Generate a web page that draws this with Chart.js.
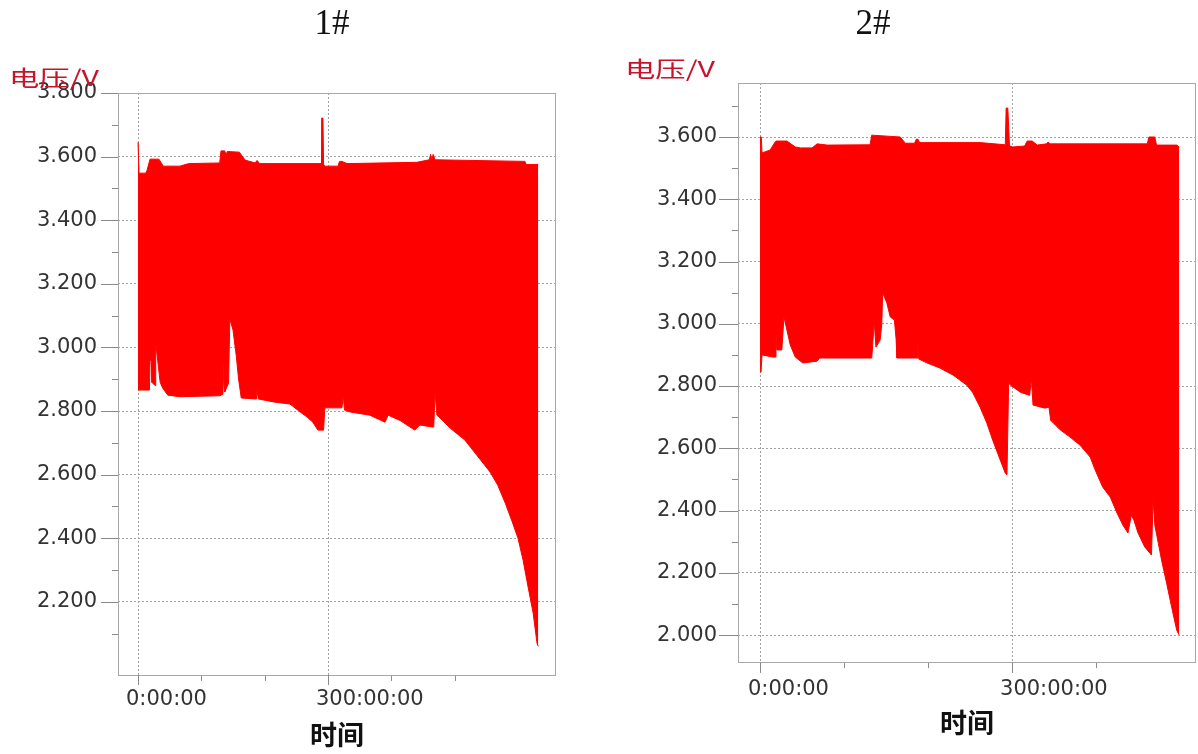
<!DOCTYPE html>
<html>
<head>
<meta charset="utf-8">
<script src="https://cdn.jsdelivr.net/npm/chart.js@4.4.1/dist/chart.umd.min.js"></script>
<style>
  html, body { margin: 0; padding: 0; background: #fff; }
  body { width: 1198px; height: 754px; position: relative; overflow: hidden; }
  .box { position: absolute; top: 0; height: 754px; }
  .lbl { position: absolute; white-space: nowrap; z-index: 2; }
  .title { font-family: "Liberation Serif", serif; font-size: 35px; line-height: 35px; color: #111; width: 100px; text-align: center; }
  .unit { font-family: "Noto Sans CJK SC", sans-serif; font-size: 22px; line-height: 22px; color: #c8142a; transform: scaleX(1.38); transform-origin: left top; }
</style>
</head>
<body>
<div class="box" style="left:0;width:560px"><canvas id="chart1"></canvas></div>
<div class="box" style="left:620px;width:578px"><canvas id="chart2"></canvas></div>
<div class="lbl title" style="left:282px;top:5px">1#</div>
<div class="lbl title" style="left:823px;top:5px">2#</div>
<div class="lbl unit" style="left:9px;top:65px">电压/V</div>
<div class="lbl unit" style="left:625px;top:56px">电压/V</div>

<script>
// ---- data (time in hours, voltage in V) ----

// 1#: upper envelope
let hiT1 = [0, 0.8, 1.6, 12, 14, 19, 33, 40, 66, 80, 129, 131, 137, 139, 141, 160, 169, 185, 188, 192,
  289, 290, 292, 293, 296, 316, 318, 322, 330, 440, 460, 462, 464, 466, 469, 611, 613, 632];
let hiV1 = [3.645, 3.645, 3.548, 3.548, 3.555, 3.592, 3.592, 3.570, 3.570, 3.578, 3.58, 3.618, 3.618, 3.605, 3.616, 3.614, 3.589, 3.58, 3.588, 3.578,
  3.578, 3.721, 3.721, 3.575, 3.570, 3.570, 3.585, 3.585, 3.578, 3.582, 3.59, 3.607, 3.59, 3.607, 3.59, 3.585, 3.575, 3.575];
// 1#: lower envelope
let loT1 = [0, 18, 19, 21, 22, 27, 28, 31, 35, 39, 47, 66, 129, 134, 136, 137, 143, 145, 150, 155,
  159, 163, 185, 187, 188, 190, 216, 240, 256, 267, 276, 284, 293, 295, 319, 322, 324, 326, 335, 366,
  390, 395, 414, 437, 445, 464, 467, 469, 472, 477, 493, 516, 535, 556, 568, 580, 591, 600, 608, 616,
  624, 630, 632];
let loV1 = [2.866, 2.866, 2.96, 2.96, 2.89, 2.88, 3.014, 2.96, 2.89, 2.872, 2.850, 2.845, 2.848, 2.853, 2.96, 2.86, 2.888, 3.089, 3.055, 2.976,
  2.897, 2.841, 2.838, 2.838, 2.866, 2.838, 2.828, 2.822, 2.797, 2.781, 2.765, 2.74, 2.74, 2.81, 2.81, 2.81, 2.85, 2.803, 2.797, 2.787,
  2.765, 2.787, 2.77, 2.74, 2.756, 2.75, 2.75, 2.86, 2.787, 2.778, 2.746, 2.709, 2.661, 2.608, 2.567, 2.51, 2.451, 2.40, 2.331, 2.246,
  2.164, 2.07, 2.06];

// 2#: upper envelope
let hiT2 = [0, 1.5, 2.4, 12, 18, 19, 32, 42, 48, 62, 68, 80, 131, 133, 167, 173, 184, 186, 188, 190,
  196, 262, 292, 293, 295, 297, 301, 315, 318, 324, 330, 341, 343, 345, 461, 463, 470, 472, 496, 499];
let hiV2 = [3.600, 3.600, 3.549, 3.558, 3.584, 3.587, 3.587, 3.568, 3.565, 3.565, 3.578, 3.574, 3.575, 3.606, 3.600, 3.580, 3.580, 3.593, 3.593, 3.582,
  3.582, 3.582, 3.575, 3.693, 3.693, 3.571, 3.568, 3.571, 3.587, 3.587, 3.574, 3.578, 3.584, 3.578, 3.578, 3.600, 3.600, 3.574, 3.574, 3.568];
// 2#: lower envelope
let loT2 = [0, 1.2, 2.4, 15.5, 18, 19, 20, 26, 28.5, 32, 36, 42, 51, 68, 71, 133, 136, 138, 143, 145,
  146, 151, 155, 160, 162, 163, 187, 188, 189, 199, 214, 230, 246, 253, 262, 270, 277, 286, 292, 294,
  296, 298, 310, 321, 323, 325, 339, 344, 346, 357, 369, 381, 393, 399, 408, 417, 425, 432, 438, 442,
  445, 450, 458, 466, 468, 470, 478, 484, 490, 496, 499];
let loV2 = [2.845, 2.845, 2.90, 2.893, 2.893, 2.97, 2.916, 2.916, 3.022, 2.98, 2.932, 2.893, 2.874, 2.88, 2.89, 2.89, 3.006, 2.925, 2.948, 3.00,
  3.10, 3.067, 3.022, 3.012, 2.95, 2.89, 2.89, 2.941, 2.887, 2.874, 2.858, 2.835, 2.803, 2.78, 2.732, 2.681, 2.626, 2.562, 2.52, 2.515,
  2.813, 2.803, 2.78, 2.77, 2.826, 2.739, 2.729, 2.732, 2.69, 2.66, 2.636, 2.61, 2.572, 2.53, 2.475, 2.443, 2.392, 2.353, 2.328, 2.385,
  2.37, 2.328, 2.283, 2.257, 2.44, 2.353, 2.241, 2.167, 2.09, 2.016, 2.0];

// ticks
let yMajor1 = [2.2, 2.4, 2.6, 2.8, 3.0, 3.2, 3.4, 3.6, 3.8];
let yMinor1 = [2.1, 2.3, 2.5, 2.7, 2.9, 3.1, 3.3, 3.5, 3.7];
let yMajor2 = [2.0, 2.2, 2.4, 2.6, 2.8, 3.0, 3.2, 3.4, 3.6];
let yMinor2 = [2.1, 2.3, 2.5, 2.7, 2.9, 3.1, 3.3, 3.5, 3.7];
let xMajor = [0, 300];
let xMinor1 = [100, 200, 400, 500];
let xMinor2 = [100, 200, 400];

const RED = "#ff0000";
const GRID = "#a4a4a4";

function pts(t, v) {
  return t.map((x, i) => ({ x: x, y: v[i] }));
}
function has(list, v) {
  return list.some((a) => Math.abs(a - v) < 1e-6);
}

// frame round the plot area + the short/long tick marks
const frameTicks = {
  id: "frameTicks",
  afterDraw(chart, args, o) {
    const { ctx, chartArea: a, scales } = chart;
    const x = scales.x, y = scales.y;
    ctx.save();
    ctx.lineWidth = 1;
    ctx.strokeStyle = "#a8a8a8";
    ctx.strokeRect(a.left + 0.5, a.top + 0.5, a.right - a.left - 1, a.bottom - a.top);
    ctx.strokeStyle = "#8a8a8a";
    ctx.beginPath();
    o.yMajor.forEach((v) => {
      let py = Math.round(y.getPixelForValue(v)) + 0.5;
      ctx.moveTo(a.left - o.yLong, py); ctx.lineTo(a.left, py);
    });
    o.yMinor.forEach((v) => {
      let py = Math.round(y.getPixelForValue(v)) + 0.5;
      ctx.moveTo(a.left - 6, py); ctx.lineTo(a.left, py);
    });
    o.xMajor.forEach((v) => {
      let px = Math.round(x.getPixelForValue(v)) + 0.5;
      ctx.moveTo(px, a.bottom); ctx.lineTo(px, a.bottom + o.xLong);
    });
    o.xMinor.forEach((v) => {
      let px = Math.round(x.getPixelForValue(v)) + 0.5;
      ctx.moveTo(px, a.bottom + 1); ctx.lineTo(px, a.bottom + 6);
    });
    ctx.stroke();
    ctx.restore();
  },
};

function makeChart(id, s) {
  let yAll = s.yMajor.concat(s.yMinor).sort((a, b) => a - b);
  let xAll = s.xMajor.concat(s.xMinor).sort((a, b) => a - b);

  return new Chart(document.getElementById(id), {
    type: "line",
    data: {
      datasets: [
        { data: pts(s.hiT, s.hiV), borderColor: RED, borderWidth: 1, pointRadius: 0, fill: false },
        { data: pts(s.loT, s.loV), borderColor: RED, borderWidth: 1, pointRadius: 0, backgroundColor: RED, fill: "-1" },
      ],
    },
    options: {
      responsive: true,
      maintainAspectRatio: false,
      animation: false,
      events: [],
      layout: { padding: { left: 0, right: s.padRight, top: s.top, bottom: 0 } },
      plugins: {
        legend: { display: false },
        tooltip: { enabled: false },
        frameTicks: {
          yMajor: s.yMajor, yMinor: s.yMinor, xMajor: s.xMajor, xMinor: s.xMinor,
          yLong: s.yLong, xLong: s.xLong,
        },
      },
      scales: {
        x: {
          type: "linear",
          min: s.xMin,
          max: s.xMax,
          afterBuildTicks: (sc) => { sc.ticks = xAll.map((v) => ({ value: v })); },
          afterFit: (sc) => { sc.height = s.xHeight; },
          ticks: {
            autoSkip: false,
            maxRotation: 0,
            align: "start",
            labelOffset: -12,
            padding: s.xPad,
            color: "#333",
            font: { family: "DejaVu Sans", size: 21 },
            callback: (v) => (has(s.xMajor, v) ? v + ":00:00" : ""),
          },
          grid: {
            drawTicks: false,
            color: (c) => (c.tick && has(s.xMajor, c.tick.value) ? GRID : "rgba(0,0,0,0)"),
          },
          border: { display: false, dash: [2, 2] },
          title: {
            display: true,
            text: "时间",
            color: "#111",
            font: { family: "Noto Sans CJK SC", size: 27, weight: "bold" },
            padding: { top: 0, bottom: s.titlePad },
          },
        },
        y: {
          min: s.yMin,
          max: s.yMax,
          afterBuildTicks: (sc) => { sc.ticks = yAll.map((v) => ({ value: v })); },
          afterFit: (sc) => { sc.width = 118; },
          ticks: {
            autoSkip: false,
            padding: 21,
            color: "#333",
            font: { family: "DejaVu Sans", size: 21 },
            callback: (v) => (has(s.yMajor, v) ? v.toFixed(3) : ""),
          },
          grid: {
            drawTicks: false,
            color: (c) => (c.tick && has(s.yMajor, c.tick.value) ? GRID : "rgba(0,0,0,0)"),
          },
          border: { display: false, dash: [2, 2] },
        },
      },
    },
    plugins: [frameTicks],
  });
}

makeChart("chart1", {
  hiT: hiT1, hiV: hiV1, loT: loT1, loV: loV1,
  yMajor: yMajor1, yMinor: yMinor1, xMajor: xMajor, xMinor: xMinor1,
  xMin: -31.6, xMax: 660, yMin: 1.970, yMax: 3.8,
  top: 93, padRight: 4, xHeight: 79, xPad: 12, titlePad: 3,
  yLong: 17, xLong: 10,
});

makeChart("chart2", {
  hiT: hiT2, hiV: hiV2, loT: loT2, loV: loV2,
  yMajor: yMajor2, yMinor: yMinor2, xMajor: xMajor, xMinor: xMinor2,
  xMin: -26.2, xMax: 519, yMin: 1.9135, yMax: 3.7735,
  top: 83, padRight: 2, xHeight: 92, xPad: 15, titlePad: 15,
  yLong: 19, xLong: 11,
});
</script>
</body>
</html>
